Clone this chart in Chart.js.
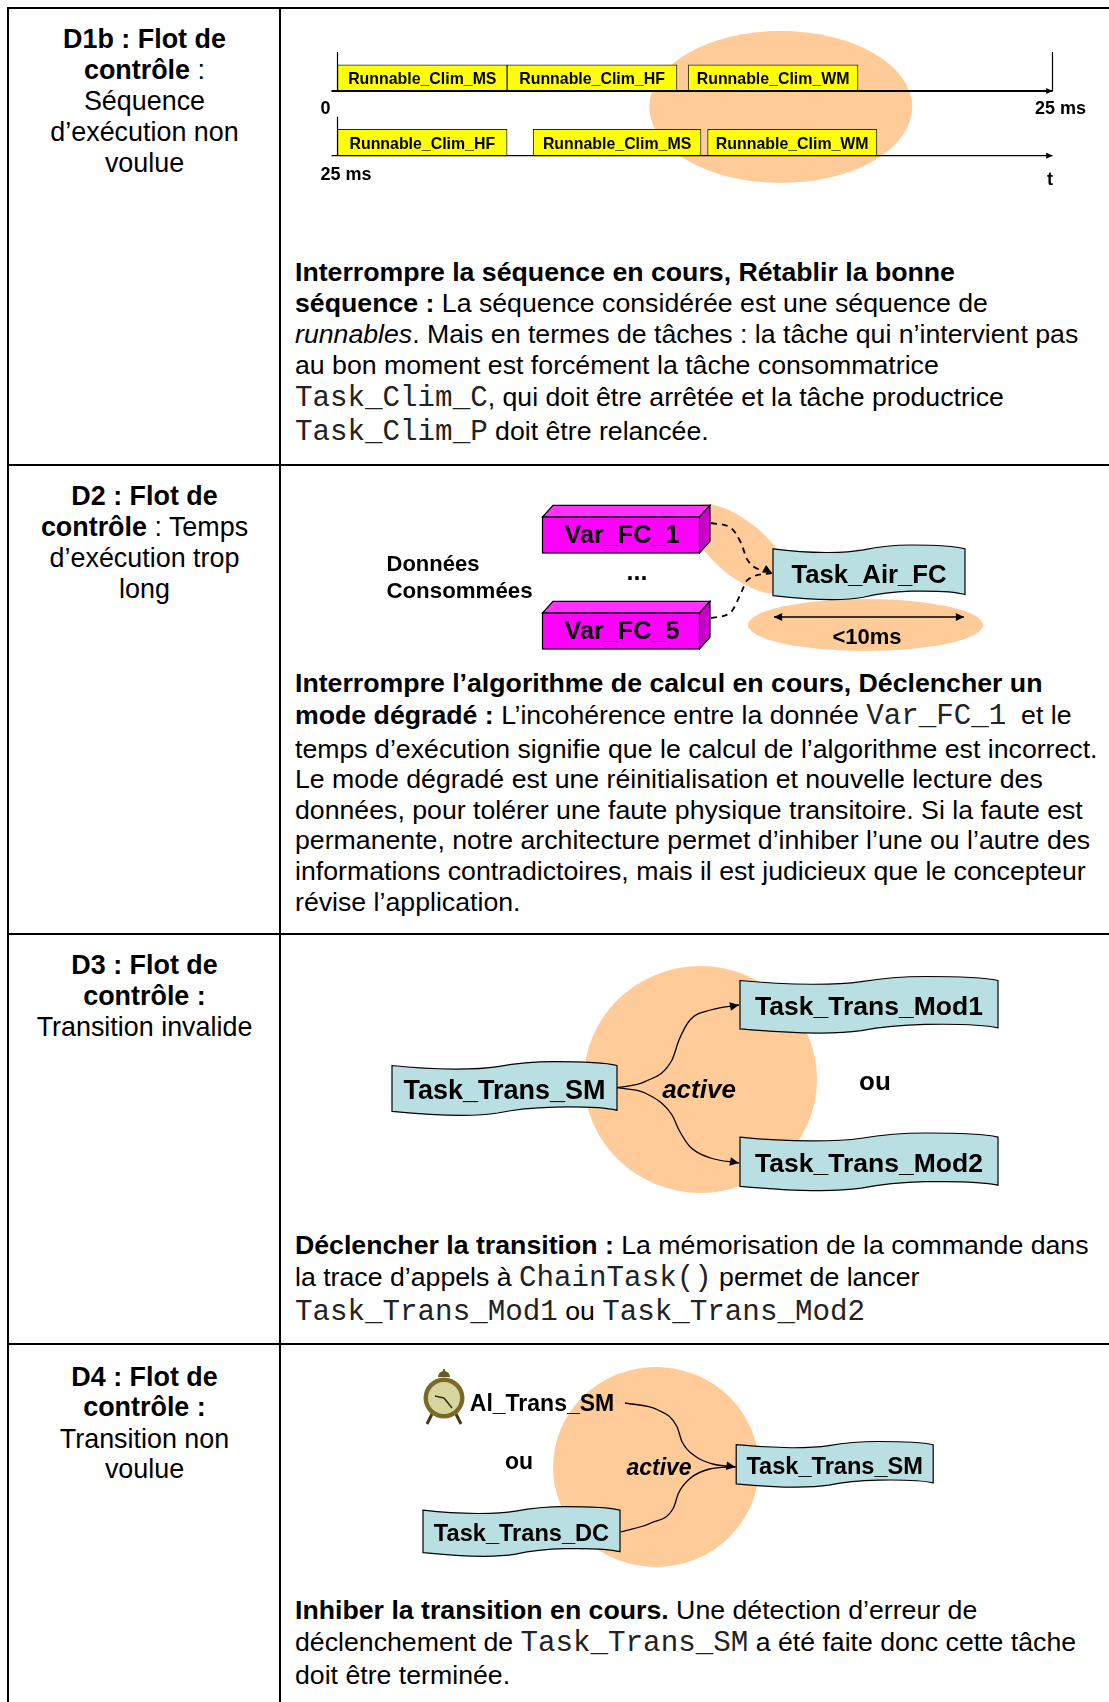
<!DOCTYPE html>
<html lang="fr">
<head>
<meta charset="utf-8">
<title>D1b - D4</title>
<script src="https://cdn.jsdelivr.net/npm/chart.js@4/dist/chart.umd.min.js"></script>
<style>
  html, body { margin: 0; padding: 0; background: #fff; }
  body { position: relative; width: 1109px; height: 1702px; overflow: hidden; font-family: "Liberation Sans", Arial, sans-serif; color: #000; }
  canvas { position: absolute; left: 282px; }
  .rule { position: absolute; background: #000; }
  .h, .t { position: absolute; font-size: 26.7px; line-height: 32px; white-space: pre; transform: translateY(-16px); }
  .h { left: 10px; width: 269px; text-align: center; font-size: 26.9px; }
  .t { left: 295px; }
  code { font-family: "Liberation Mono", "Courier New", monospace; font-size: 29.2px; color: #222; }
</style>
</head>
<body>
<canvas id="d1" width="827" height="230" style="top:10px"></canvas>
<canvas id="d2" width="827" height="200" style="top:466px"></canvas>
<canvas id="d3" width="827" height="290" style="top:935px"></canvas>
<canvas id="d4" width="827" height="240" style="top:1345px"></canvas>

<div class="rule" style="left:7px;top:7px;width:1102px;height:2px"></div>
<div class="rule" style="left:7px;top:7px;width:2px;height:1695px"></div>
<div class="rule" style="left:279px;top:7px;width:2px;height:1695px"></div>
<div class="rule" style="left:7px;top:464px;width:1102px;height:2px"></div>
<div class="rule" style="left:7px;top:933px;width:1102px;height:2px"></div>
<div class="rule" style="left:7px;top:1343px;width:1102px;height:2px"></div>

<div class="h" style="top:39px"><b>D1b : Flot de</b></div>
<div class="h" style="top:70px"><b>contrôle</b> :</div>
<div class="h" style="top:101px">Séquence</div>
<div class="h" style="top:132px">d’exécution non</div>
<div class="h" style="top:163px">voulue</div>

<div class="t" style="top:272px"><b>Interrompre la séquence en cours, Rétablir la bonne</b></div>
<div class="t" style="top:303px"><b>séquence :</b> La séquence considérée est une séquence de</div>
<div class="t" style="top:334px"><i>runnables</i>. Mais en termes de tâches : la tâche qui n’intervient pas</div>
<div class="t" style="top:365px">au bon moment est forcément la tâche consommatrice</div>
<div class="t" style="top:397px"><code>Task_Clim_C</code>, qui doit être arrêtée et la tâche productrice</div>
<div class="t" style="top:431px"><code>Task_Clim_P</code> doit être relancée.</div>

<div class="h" style="top:496px"><b>D2 : Flot de</b></div>
<div class="h" style="top:527px"><b>contrôle</b> : Temps</div>
<div class="h" style="top:558px">d’exécution trop</div>
<div class="h" style="top:589px">long</div>

<div class="t" style="top:683px"><b>Interrompre l’algorithme de calcul en cours, Déclencher un</b></div>
<div class="t" style="top:715px"><b>mode dégradé :</b> L’incohérence entre la donnée <code>Var_FC_1</code>  et le</div>
<div class="t" style="top:749px">temps d’exécution signifie que le calcul de l’algorithme est incorrect.</div>
<div class="t" style="top:779px">Le mode dégradé est une réinitialisation et nouvelle lecture des</div>
<div class="t" style="top:810px">données, pour tolérer une faute physique transitoire. Si la faute est</div>
<div class="t" style="top:840px">permanente, notre architecture permet d’inhiber l’une ou l’autre des</div>
<div class="t" style="top:871px">informations contradictoires, mais il est judicieux que le concepteur</div>
<div class="t" style="top:902px">révise l’application.</div>

<div class="h" style="top:965px"><b>D3 : Flot de</b></div>
<div class="h" style="top:996px"><b>contrôle :</b></div>
<div class="h" style="top:1027px">Transition invalide</div>

<div class="t" style="top:1245px"><b>Déclencher la transition :</b> La mémorisation de la commande dans</div>
<div class="t" style="top:1277px">la trace d’appels à <code>ChainTask()</code> permet de lancer</div>
<div class="t" style="top:1311px"><code>Task_Trans_Mod1</code> ou <code>Task_Trans_Mod2</code></div>

<div class="h" style="top:1377px"><b>D4 : Flot de</b></div>
<div class="h" style="top:1407px"><b>contrôle :</b></div>
<div class="h" style="top:1439px">Transition non</div>
<div class="h" style="top:1469px">voulue</div>

<div class="t" style="top:1610px"><b>Inhiber la transition en cours.</b> Une détection d’erreur de</div>
<div class="t" style="top:1642px">déclenchement de <code>Task_Trans_SM</code> a été faite donc cette tâche</div>
<div class="t" style="top:1675px">doit être terminée.</div>

<script>
// D1b : spans in ms, one entry per row
const d1Rows = ['0 ms', '25 ms'];
const d1Runnables = ['Runnable_Clim_MS', 'Runnable_Clim_HF', 'Runnable_Clim_WM'];
const d1SpansMS = [[0, 5.93], [6.84, 12.71]];
const d1SpansHF = [[5.93, 11.87], [0, 5.93]];
const d1SpansWM = [[12.26, 18.2], [12.94, 18.86]];

// D2
const d2Vars = ['Var_FC_1', 'Var_FC_5'];
const d2VarPoints = [{ x: 621, y: 535 }, { x: 621, y: 631 }];
const d2Tasks = ['Task_Air_FC'];
const d2TaskPoints = [{ x: 869, y: 572.5 }];
const d2FlowTop = [{ x: 711, y: 523 }, { x: 731, y: 528 }, { x: 741, y: 543 }, { x: 747.5, y: 560 }, { x: 772, y: 573 }];
const d2FlowBottom = [{ x: 711, y: 618 }, { x: 731, y: 612 }, { x: 741, y: 593 }, { x: 747.5, y: 580 }, { x: 772, y: 573 }];

// D3
const d3Tasks = ['Task_Trans_SM', 'Task_Trans_Mod1', 'Task_Trans_Mod2'];
const d3TaskPoints = [{ x: 504.5, y: 1088.7 }, { x: 869, y: 1005 }, { x: 869, y: 1162 }];
const d3FlowUp = [{ x: 617, y: 1087.7 }, { x: 645, y: 1081.7 }, { x: 672, y: 1060 }, { x: 679, y: 1040 }, { x: 690, y: 1020 }, { x: 710.6, y: 1010 }, { x: 739, y: 1005 }];
const d3FlowDown = [{ x: 617, y: 1087.7 }, { x: 645, y: 1093 }, { x: 672, y: 1115 }, { x: 679, y: 1130 }, { x: 690, y: 1146.7 }, { x: 710.6, y: 1158 }, { x: 739, y: 1163 }];

// D4
const d4Tasks = ['Task_Trans_SM', 'Task_Trans_DC'];
const d4TaskPoints = [{ x: 834.7, y: 1464.5 }, { x: 521.5, y: 1531.7 }];
const d4FlowAlarm = [{ x: 625, y: 1403 }, { x: 658, y: 1410 }, { x: 677, y: 1426.7 }, { x: 682, y: 1441.7 }, { x: 696, y: 1456.7 }, { x: 713, y: 1464 }, { x: 735.4, y: 1467 }];
const d4FlowTask = [{ x: 620.7, y: 1532 }, { x: 651, y: 1523 }, { x: 673.4, y: 1508 }, { x: 678.6, y: 1493 }, { x: 690.6, y: 1478 }, { x: 709.6, y: 1469 }, { x: 735.4, y: 1466.7 }];

const ORANGE = '#FFCC99';
const TASK_BLUE = '#B9DFE3';
const BOLD = '"Liberation Sans", Arial, sans-serif';

function label(ctx, text, x, y, size, style) {
    ctx.font = (style || 'bold') + ' ' + size + 'px ' + BOLD;
    ctx.fillStyle = '#000';
    ctx.textAlign = 'center';
    ctx.textBaseline = 'middle';
    ctx.fillText(text, x, y);
}

function ellipse(ctx, x, y, rx, ry, rot) {
    ctx.fillStyle = ORANGE;
    ctx.beginPath();
    ctx.ellipse(x, y, rx, ry, rot || 0, 0, Math.PI * 2);
    ctx.fill();
}

function arrowHead(ctx, tipX, tipY, fromX, fromY, size) {
    const a = Math.atan2(tipY - fromY, tipX - fromX);
    ctx.fillStyle = '#000';
    ctx.beginPath();
    ctx.moveTo(tipX, tipY);
    ctx.lineTo(tipX - size * Math.cos(a - 0.45), tipY - size * Math.sin(a - 0.45));
    ctx.lineTo(tipX - size * Math.cos(a + 0.45), tipY - size * Math.sin(a + 0.45));
    ctx.closePath();
    ctx.fill();
}

// wavy "document" banner used for tasks
function banner(ctx, cx, cy, w, h, text, size) {
    const x = cx - w / 2, y = cy - h / 2;
    const px = f => x + w * f, py = f => y + h * f;
    ctx.beginPath();
    ctx.moveTo(px(0), py(0.07));
    ctx.bezierCurveTo(px(0.2), py(0.16), px(0.38), py(0.15), px(0.47), py(0.09));
    ctx.bezierCurveTo(px(0.55), py(0.03), px(0.62), py(0), px(0.72), py(0));
    ctx.bezierCurveTo(px(0.85), py(0), px(0.95), py(0.02), px(1), py(0.07));
    ctx.lineTo(px(1), py(0.9));
    ctx.bezierCurveTo(px(0.95), py(0.85), px(0.85), py(0.83), px(0.72), py(0.84));
    ctx.bezierCurveTo(px(0.62), py(0.85), px(0.55), py(0.88), px(0.47), py(0.95));
    ctx.bezierCurveTo(px(0.38), py(1.01), px(0.2), py(1.0), px(0), py(0.92));
    ctx.closePath();
    ctx.fillStyle = TASK_BLUE;
    ctx.fill();
    ctx.strokeStyle = '#000';
    ctx.lineWidth = 1.2;
    ctx.stroke();
    label(ctx, text, cx, cy + 3, size);
}

function box3d(ctx, cx, cy, text) {
    const x = cx - 78.5, y = cy - 18, w = 157, h = 36, dx = 10.5, dy = 11.7;
    ctx.strokeStyle = '#000';
    ctx.lineWidth = 1.2;
    ctx.fillStyle = '#FF33FF';
    ctx.beginPath();
    ctx.moveTo(x, y); ctx.lineTo(x + dx, y - dy); ctx.lineTo(x + w + dx, y - dy); ctx.lineTo(x + w, y);
    ctx.closePath(); ctx.fill(); ctx.stroke();
    ctx.fillStyle = '#CC00CC';
    ctx.beginPath();
    ctx.moveTo(x + w, y); ctx.lineTo(x + w + dx, y - dy); ctx.lineTo(x + w + dx, y + h - dy); ctx.lineTo(x + w, y + h);
    ctx.closePath(); ctx.fill(); ctx.stroke();
    ctx.fillStyle = '#FF00FF';
    ctx.fillRect(x, y, w, h);
    ctx.strokeRect(x, y, w, h);
    label(ctx, text, cx + 1, cy + 1, 25.2);
}

function alarmClock(ctx, cx, cy) {
    ctx.strokeStyle = '#4a3a10';
    ctx.lineWidth = 3;
    ctx.beginPath();
    ctx.moveTo(cx - 12, cy + 16); ctx.lineTo(cx - 17, cy + 26);
    ctx.moveTo(cx + 12, cy + 16); ctx.lineTo(cx + 17, cy + 26);
    ctx.stroke();
    ctx.fillStyle = '#6b5a1e';
    ctx.beginPath(); ctx.arc(cx, cy - 21, 6, Math.PI, 0); ctx.fill();
    ctx.fillRect(cx - 1, cy - 29, 2, 6);
    ctx.fillStyle = '#7a6a28';
    ctx.beginPath(); ctx.arc(cx, cy, 20.5, 0, Math.PI * 2); ctx.fill();
    ctx.fillStyle = '#D8D6A0';
    ctx.beginPath(); ctx.arc(cx, cy, 16, 0, Math.PI * 2); ctx.fill();
    ctx.strokeStyle = '#3a2a10';
    ctx.lineWidth = 1.5;
    ctx.beginPath();
    ctx.moveTo(cx, cy); ctx.lineTo(cx - 9, cy - 2);
    ctx.moveTo(cx, cy); ctx.lineTo(cx + 8, cy + 10);
    ctx.stroke();
}

// D1b : floating bars on a ms axis
const d1Plugin = {
    id: 'd1Plugin',
    beforeDatasetsDraw(chart) {
        const { ctx, scales: { x, y } } = chart;
        ellipse(ctx, x.getPixelForValue(15.5), y.getPixelForValue(0) + 29, 131.5, 76);
    },
    afterDatasetsDraw(chart) {
        const { ctx, scales: { x, y } } = chart;
        ctx.save();
        ctx.strokeStyle = '#000';
        d1Rows.forEach((row, i) => {
            const base = y.getPixelForValue(i) + 13;
            const x0 = x.getPixelForValue(0), x1 = x.getPixelForValue(25);
            ctx.lineWidth = i === 0 ? 2.2 : 1.3;
            ctx.beginPath();
            ctx.moveTo(x0 - 6, base); ctx.lineTo(x1, base);
            ctx.stroke();
            ctx.lineWidth = 1.2;
            ctx.beginPath();
            ctx.moveTo(x0, base - 39); ctx.lineTo(x0, base);
            if (i === 0) { ctx.moveTo(x1, base - 39); ctx.lineTo(x1, base); }
            ctx.stroke();
            arrowHead(ctx, x1, base, x1 - 6, base, 7);
        });
        chart.data.datasets.forEach((ds, d) => {
            chart.getDatasetMeta(d).data.forEach(bar => {
                label(ctx, ds.label, (bar.x + bar.base) / 2, bar.y + 2, 15.9);
            });
        });
        const x0 = x.getPixelForValue(0), x1 = x.getPixelForValue(25);
        const y0 = y.getPixelForValue(0), y1 = y.getPixelForValue(1);
        label(ctx, '0', x0 - 12, y0 + 31, 18);
        label(ctx, '25 ms', x1 + 8, y0 + 31, 18);
        label(ctx, '25 ms', x0 + 8.5, y1 + 32, 18);
        label(ctx, 't', x1 - 2.5, y1 + 37, 18);
        ctx.restore();
    }
};

new Chart(document.getElementById('d1'), {
    type: 'bar',
    data: {
        labels: d1Rows,
        datasets: [
            { label: d1Runnables[0], data: d1SpansMS },
            { label: d1Runnables[1], data: d1SpansHF },
            { label: d1Runnables[2], data: d1SpansWM }
        ].map(ds => ({ ...ds, backgroundColor: '#FFFF00', borderColor: '#222', borderWidth: 1, borderSkipped: false, barThickness: 26.5 }))
    },
    options: {
        indexAxis: 'y',
        responsive: false,
        animation: false,
        events: [],
        layout: { padding: { left: 55.5, right: 56.5, top: 35.65, bottom: 65 } },
        plugins: { legend: { display: false }, tooltip: { enabled: false } },
        datasets: { bar: { grouped: false } },
        scales: {
            x: { type: 'linear', min: 0, max: 25, display: false },
            y: { display: false }
        }
    },
    plugins: [d1Plugin]
});

// D2 to D4 : node diagrams on a scatter chart, axes are in page units
function diagram(id, top, height, flows, nodes, draw) {
    const canvas = document.getElementById(id);
    new Chart(canvas, {
        type: 'scatter',
        data: {
            datasets: flows.map(f => ({
                data: f.points,
                showLine: true,
                cubicInterpolationMode: 'monotone',
                pointRadius: 0,
                borderColor: '#000',
                borderWidth: f.width || 1.3,
                borderDash: f.dash || [],
                clip: false
            })).concat(nodes.map(n => ({ data: n, pointRadius: 0, showLine: false })))
        },
        options: {
            responsive: false,
            animation: false,
            events: [],
            plugins: { legend: { display: false }, tooltip: { enabled: false } },
            scales: {
                x: { type: 'linear', min: 282, max: 1109, display: false },
                y: { type: 'linear', min: top, max: top + height, reverse: true, display: false }
            }
        },
        plugins: [{
            id: id + 'Plugin',
            beforeDatasetsDraw(chart) {
                const { ctx, scales: { x, y } } = chart;
                ctx.save();
                draw.under(ctx, x, y);
                ctx.restore();
            },
            afterDatasetsDraw(chart) {
                const { ctx, scales: { x, y } } = chart;
                ctx.save();
                flows.forEach((f, i) => {
                    const pts = chart.getDatasetMeta(i).data;
                    if (f.arrow) {
                        const tip = pts[pts.length - 1], prev = pts[pts.length - 2];
                        arrowHead(ctx, tip.x, tip.y, prev.x, prev.y, f.arrow);
                    }
                });
                const nodeMeta = nodes.map((n, i) => chart.getDatasetMeta(flows.length + i).data);
                draw.over(ctx, x, y, nodeMeta);
                ctx.restore();
            }
        }]
    });
}

diagram('d2', 466, 200,
    [{ points: d2FlowTop, dash: [6, 5], width: 1.8, arrow: 10 }, { points: d2FlowBottom, dash: [6, 5], width: 1.8 }],
    [d2VarPoints, d2TaskPoints],
    {
        under(ctx, x, y) {
            ellipse(ctx, x.getPixelForValue(740), y.getPixelForValue(549), 62, 27, 0.7);
            ellipse(ctx, x.getPixelForValue(865.5), y.getPixelForValue(625), 117.5, 26);
        },
        over(ctx, x, y, meta) {
            meta[0].forEach((p, i) => box3d(ctx, p.x, p.y, d2Vars[i]));
            meta[1].forEach((p, i) => banner(ctx, p.x, p.y, 192, 55, d2Tasks[i], 25.7));
            const ay = y.getPixelForValue(617), ax0 = x.getPixelForValue(774), ax1 = x.getPixelForValue(964);
            ctx.strokeStyle = '#000';
            ctx.lineWidth = 1.3;
            ctx.beginPath(); ctx.moveTo(ax0, ay); ctx.lineTo(ax1, ay); ctx.stroke();
            arrowHead(ctx, ax0, ay, ax0 + 6, ay, 9);
            arrowHead(ctx, ax1, ay, ax1 - 6, ay, 9);
            label(ctx, '<10ms', x.getPixelForValue(867), y.getPixelForValue(638), 22);
            label(ctx, 'Données', x.getPixelForValue(433), y.getPixelForValue(565), 22);
            label(ctx, 'Consommées', x.getPixelForValue(459.5), y.getPixelForValue(592), 22.3);
            label(ctx, '...', x.getPixelForValue(637), y.getPixelForValue(573), 25);
        }
    });

diagram('d3', 935, 290,
    [{ points: d3FlowUp, arrow: 10 }, { points: d3FlowDown, arrow: 10 }],
    [d3TaskPoints],
    {
        under(ctx, x, y) {
            ellipse(ctx, x.getPixelForValue(700.5), y.getPixelForValue(1079.5), 116.5, 113.5);
        },
        over(ctx, x, y, meta) {
            const w = [225, 258, 258], h = [54, 57, 58], size = [27, 26.5, 26.5];
            meta[0].forEach((p, i) => banner(ctx, p.x, p.y, w[i], h[i], d3Tasks[i], size[i]));
            label(ctx, 'active', x.getPixelForValue(699), y.getPixelForValue(1091), 26, 'italic bold');
            label(ctx, 'ou', x.getPixelForValue(875), y.getPixelForValue(1083), 26);
        }
    });

diagram('d4', 1345, 240,
    [{ points: d4FlowAlarm, arrow: 10 }, { points: d4FlowTask }],
    [d4TaskPoints],
    {
        under(ctx, x, y) {
            ellipse(ctx, x.getPixelForValue(656), y.getPixelForValue(1467), 103, 100);
        },
        over(ctx, x, y, meta) {
            const w = [197, 197], h = [46, 50];
            meta[0].forEach((p, i) => banner(ctx, p.x, p.y, w[i], h[i], d4Tasks[i], 23.6));
            alarmClock(ctx, x.getPixelForValue(444), y.getPixelForValue(1398));
            label(ctx, 'Al_Trans_SM', x.getPixelForValue(542), y.getPixelForValue(1405), 23);
            label(ctx, 'ou', x.getPixelForValue(519), y.getPixelForValue(1463), 23);
            label(ctx, 'active', x.getPixelForValue(659), y.getPixelForValue(1469), 23, 'italic bold');
        }
    });
</script>
</body>
</html>
